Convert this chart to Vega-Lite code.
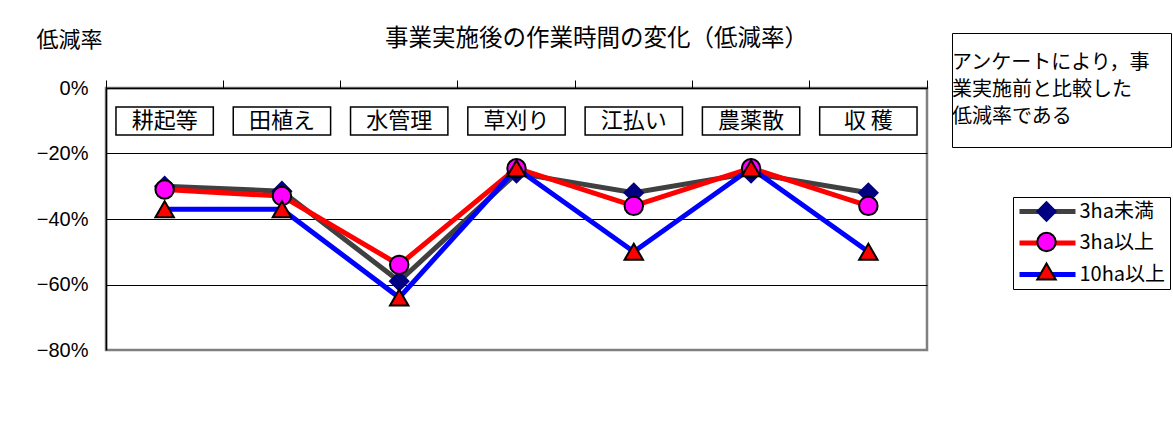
{
  "$schema": "https://vega.github.io/schema/vega-lite/v6.json",
  "width": 821,
  "height": 262,
  "autosize": {"type": "none"},
  "padding": {"left": 106, "top": 88, "right": 246, "bottom": 72},
  "background": "white",
  "title": {
    "text": "事業実施後の作業時間の変化（低減率）",
    "anchor": "start",
    "frame": "group",
    "dx": 279,
    "offset": -46,
    "baseline": "bottom",
    "fontSize": 23.5,
    "font": "Noto Sans CJK JP",
    "fontWeight": "normal",
    "color": "black"
  },
  "data": {
    "values": [
      {"作業": "耕起等", "3ha未満": -0.30, "3ha以上": -0.31, "10ha以上": -0.37},
      {"作業": "田植え", "3ha未満": -0.315, "3ha以上": -0.33, "10ha以上": -0.37},
      {"作業": "水管理", "3ha未満": -0.59, "3ha以上": -0.54, "10ha以上": -0.64},
      {"作業": "草刈り", "3ha未満": -0.26, "3ha以上": -0.245, "10ha以上": -0.245},
      {"作業": "江払い", "3ha未満": -0.32, "3ha以上": -0.36, "10ha以上": -0.50},
      {"作業": "農薬散", "3ha未満": -0.26, "3ha以上": -0.245, "10ha以上": -0.245},
      {"作業": "収 穫", "3ha未満": -0.32, "3ha以上": -0.36, "10ha以上": -0.50}
    ]
  },
  "layer": [
    {
      "transform": [{"fold": ["3ha未満", "3ha以上", "10ha以上"], "as": ["系列", "値"]}],
      "mark": {"type": "line", "strokeWidth": 5},
      "encoding": {
        "x": {
          "field": "作業",
          "type": "nominal",
          "bandPosition": 0.5,
          "scale": {"type": "band", "paddingInner": 0, "paddingOuter": 0, "domain": ["耕起等", "田植え", "水管理", "草刈り", "江払い", "農薬散", "収 穫"]},
          "axis": {
            "orient": "top",
            "labels": false,
            "title": null,
            "grid": false,
            "domainColor": "black",
            "domainWidth": 1.5,
            "tickColor": "black",
            "tickSize": 8,
            "tickWidth": 1,
            "bandPosition": 1,
            "tickExtra": true
          }
        },
        "y": {
          "field": "値",
          "type": "quantitative",
          "scale": {"domain": [-0.8, 0], "nice": false},
          "axis": {
            "values": [0, -0.2, -0.4, -0.6, -0.8],
            "format": ".0%",
            "ticks": false,
            "domainColor": "black",
            "domainWidth": 1.5,
            "grid": true,
            "gridColor": {"condition": {"test": "datum.value === -0.8", "value": "#808080"}, "value": "black"},
            "gridWidth": 1,
            "labelFont": "Liberation Sans",
            "labelFontSize": 20,
            "labelColor": "black",
            "labelPadding": 18,
            "title": "低減率",
            "titleAngle": 0,
            "titleX": -70,
            "titleY": -49,
            "titleAlign": "left",
            "titleBaseline": "middle",
            "titleFont": "Noto Sans CJK JP",
            "titleFontSize": 22,
            "titleFontWeight": "normal",
            "titleColor": "black"
          }
        },
        "color": {
          "field": "系列",
          "type": "nominal",
          "scale": {"domain": ["3ha未満", "3ha以上", "10ha以上"], "range": ["#404040", "#FF0000", "#0000FF"]},
          "legend": {
            "orient": "none",
            "legendX": 907,
            "legendY": 109,
            "title": null,
            "symbolType": "M-1,0H6",
            "symbolSize": 256,
            "symbolStrokeWidth": 5,
            "labelFont": "Noto Sans CJK JP",
            "labelFontSize": 20,
            "labelColor": "black",
            "labelOffset": 41.5,
            "labelLimit": 300,
            "padding": 4,
            "rowPadding": 10.5,
            "strokeColor": "black",
            "fillColor": "white"
          }
        }
      }
    },
    {
      "transform": [{"fold": ["3ha未満", "3ha以上", "10ha以上"], "as": ["系列点", "値"]}],
      "mark": {"type": "point", "filled": true, "opacity": 1, "strokeWidth": 2, "size": 340},
      "encoding": {
        "x": {"field": "作業", "type": "nominal", "bandPosition": 0.5},
        "y": {"field": "値", "type": "quantitative"},
        "shape": {
          "field": "系列点",
          "type": "nominal",
          "sort": "descending",
          "scale": {"range": ["diamond", "circle", "triangle-up"]},
          "legend": {
            "orient": "none",
            "legendX": 926,
            "legendY": 109,
            "title": null,
            "symbolSize": 340,
            "symbolStrokeWidth": 2,
            "symbolOpacity": 1,
            "labelOpacity": 0,
            "labelFont": "Noto Sans CJK JP",
            "labelFontSize": 20,
            "labelLimit": 300,
            "padding": 4,
            "rowPadding": 3.5,
            "encode": {
              "symbols": {
                "update": {
                  "fill": {"scale": "fill", "field": "value"},
                  "stroke": {"scale": "stroke", "field": "value"}
                }
              }
            }
          }
        },
        "fill": {
          "field": "系列点",
          "type": "nominal",
          "sort": "descending",
          "scale": {"range": ["#000080", "#FF00FF", "#FF0000"]},
          "legend": null
        },
        "stroke": {
          "field": "系列点",
          "type": "nominal",
          "sort": "descending",
          "scale": {"range": ["#000080", "black", "black"]},
          "legend": null
        }
      }
    },
    {
      "mark": {"type": "bar", "fill": "white", "stroke": "black", "strokeWidth": 1.5, "width": {"band": 0.83}},
      "encoding": {
        "x": {"field": "作業", "type": "nominal"},
        "y": {"datum": -0.058},
        "y2": {"datum": -0.1435}
      }
    },
    {
      "mark": {"type": "text", "font": "Noto Sans CJK JP", "fontSize": 22, "baseline": "middle", "align": "center", "color": "black"},
      "encoding": {
        "x": {"field": "作業", "type": "nominal", "bandPosition": 0.5},
        "y": {"datum": -0.10},
        "text": {"field": "作業"}
      }
    },
    {
      "data": {"values": [
        {"注記": "アンケートにより，事"},
        {"注記": "業実施前と比較した"},
        {"注記": "低減率である"}
      ]},
      "mark": {"type": "point", "opacity": 0},
      "encoding": {
        "strokeDash": {
          "field": "注記",
          "type": "nominal",
          "scale": {"domain": ["アンケートにより，事", "業実施前と比較した", "低減率である"]},
          "legend": {
            "orient": "none",
            "legendX": 846,
            "legendY": -55,
            "title": null,
            "symbolOpacity": 0,
            "symbolSize": 0,
            "symbolStrokeWidth": 0,
            "labelFont": "Noto Sans CJK JP",
            "labelFontSize": 20,
            "labelColor": "black",
            "labelOffset": -40,
            "labelLimit": 300,
            "padding": 20,
            "rowPadding": 7,
            "strokeColor": "black",
            "fillColor": "white"
          }
        }
      }
    }
  ],
  "config": {
    "view": {"fill": "#CCFFCC", "stroke": "#808080", "strokeWidth": 2.5},
    "font": "Noto Sans CJK JP"
  }
}
